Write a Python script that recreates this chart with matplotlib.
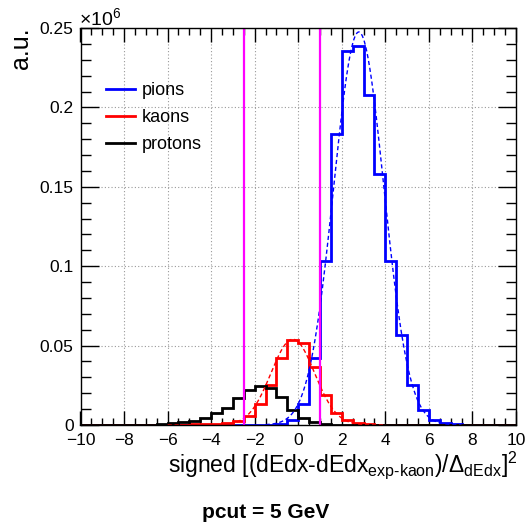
import numpy as np
import matplotlib
matplotlib.use("Agg")
import matplotlib.pyplot as plt
from matplotlib.ticker import MultipleLocator

plt.rcParams["font.family"] = ["Liberation Sans", "DejaVu Sans"]
plt.rcParams["mathtext.fontset"] = "custom"
plt.rcParams["mathtext.rm"] = "Liberation Sans"
plt.rcParams["mathtext.it"] = "Liberation Sans:italic"
plt.rcParams["mathtext.bf"] = "Liberation Sans:bold"

# ----- histogram binning (0.5 wide bins from -10 to 10) -----
edges = np.arange(-10, 10.01, 0.5)

# ----- bin contents (x 10^6), keyed by bin low edge -----
pion_lo = [-2.0, -1.5, -1.0, -0.5, 0.0, 0.5, 1.0, 1.5, 2.0, 2.5, 3.0, 3.5,
           4.0, 4.5, 5.0, 5.5, 6.0, 6.5, 7.0, 7.5]
pion_val = [0.0001, 0.0002, 0.0007, 0.0032, 0.0132, 0.042, 0.103, 0.183,
            0.2355, 0.2385, 0.208, 0.158, 0.1035, 0.0565, 0.0252, 0.0094,
            0.003, 0.0012, 0.0004, 0.0001]

kaon_lo = [-6.5, -6.0, -5.5, -5.0, -4.5, -4.0, -3.5, -3.0, -2.5, -2.0, -1.5,
           -1.0, -0.5, 0.0, 0.5, 1.0, 1.5, 2.0, 2.5, 3.0, 3.5, 4.0]
kaon_val = [0.0001, 0.0002, 0.0003, 0.0004, 0.0006, 0.0008, 0.0012, 0.0025,
            0.0057, 0.0132, 0.025, 0.042, 0.0535, 0.0518, 0.0363, 0.019,
            0.0077, 0.0031, 0.0013, 0.0005, 0.0003, 0.0001]

proton_lo = [-7.0, -6.5, -6.0, -5.5, -5.0, -4.5, -4.0, -3.5, -3.0, -2.5, -2.0,
             -1.5, -1.0, -0.5, 0.0, 0.5, 1.0, 1.5, 2.0]
proton_val = [0.0002, 0.0004, 0.001, 0.0017, 0.0025, 0.0042, 0.0074, 0.011,
              0.0168, 0.022, 0.0246, 0.023, 0.0178, 0.0094, 0.0042, 0.002,
              0.0008, 0.0003, 0.0001]

# ----- gaussian fit parameters (amplitude, mean, sigma, range) -----
pion_fit = [0.2475, 2.78, 1.15, -1.5, 7.5]
kaon_fit = [0.054, -0.25, 1.0, -6.0, 4.0]

# ----- cut lines -----
cuts = [-2.48, 0.99]


def fill_bins(lo, val):
    h = np.zeros(len(edges) - 1)
    for x, v in zip(lo, val):
        h[int(round((x - edges[0]) / 0.5))] = v
    return h


def gaus(p):
    x = np.linspace(p[3], p[4], 400)
    return x, p[0] * np.exp(-0.5 * ((x - p[1]) / p[2]) ** 2)


fig = plt.figure(figsize=(5.27, 5.26), dpi=100)
ax = fig.add_axes([80.5 / 527, 1 - 425 / 526, 435.5 / 527, 397 / 526])

ax.grid(True, which="major", color="#999999", linestyle=(0, (1, 2)), linewidth=0.8)
ax.set_axisbelow(True)

for lo, val, fit, col, lab in [(pion_lo, pion_val, pion_fit, "#0000ff", "pions"),
                               (kaon_lo, kaon_val, kaon_fit, "#ff0000", "kaons"),
                               (proton_lo, proton_val, None, "#000000", "protons")]:
    ax.stairs(fill_bins(lo, val), edges, color=col, linewidth=2.0, label=lab)
    if fit is not None:
        fx, fy = gaus(fit)
        ax.plot(fx, fy, color=col, linewidth=1.0, linestyle=(0, (3, 2)))

for c in cuts:
    ax.axvline(c, color="#ff00ff", linewidth=1.6)

ax.set_xlim(-10, 10)
ax.set_ylim(0, 0.25)
ax.xaxis.set_major_locator(MultipleLocator(2))
ax.xaxis.set_minor_locator(MultipleLocator(0.5))
ax.yaxis.set_major_locator(MultipleLocator(0.05))
ax.yaxis.set_minor_locator(MultipleLocator(0.01))
ax.set_yticks([0, 0.05, 0.1, 0.15, 0.2, 0.25])
ax.set_yticklabels(["0", "0.05", "0.1", "0.15", "0.2", "0.25"])
ax.tick_params(which="both", direction="in", top=True, right=True, labelsize=12.5, width=1)
ax.tick_params(axis="x", which="major", length=10, pad=6)
ax.tick_params(axis="x", which="minor", length=5)
ax.tick_params(axis="y", which="major", length=13, pad=5)
ax.tick_params(axis="y", which="minor", length=7)
for s in ax.spines.values():
    s.set_linewidth(1.0)

leg = ax.legend(loc="upper left", bbox_to_anchor=(106 / 527, 1 - 82 / 526),
                bbox_transform=fig.transFigure, frameon=False, fontsize=13,
                handlelength=1.6, handletextpad=0.4, labelspacing=0.55,
                borderpad=0, borderaxespad=0)
for line in leg.get_lines():
    line.set_linewidth(2.0)

fig.text(21 / 527, 1 - 27 / 526, "a.u.", rotation=90, ha="center", va="top", fontsize=18)
fig.text(79 / 527, 1 - 25 / 526, r"$\times$10$^{6}$", ha="left", va="baseline", fontsize=14)
fig.text(518 / 527, 1 - 472 / 526,
         r"signed [(dEdx-dEdx$_{\mathrm{exp\text{-}kaon}}$)/$\Delta_{\mathrm{dEdx}}$]$^{2}$",
         ha="right", va="baseline", fontsize=16.5)
fig.text(266 / 527, 1 - 512 / 526, "pcut = 5 GeV", ha="center", va="center",
         fontsize=15, fontweight="bold")

fig.savefig("out.png", dpi=100)
